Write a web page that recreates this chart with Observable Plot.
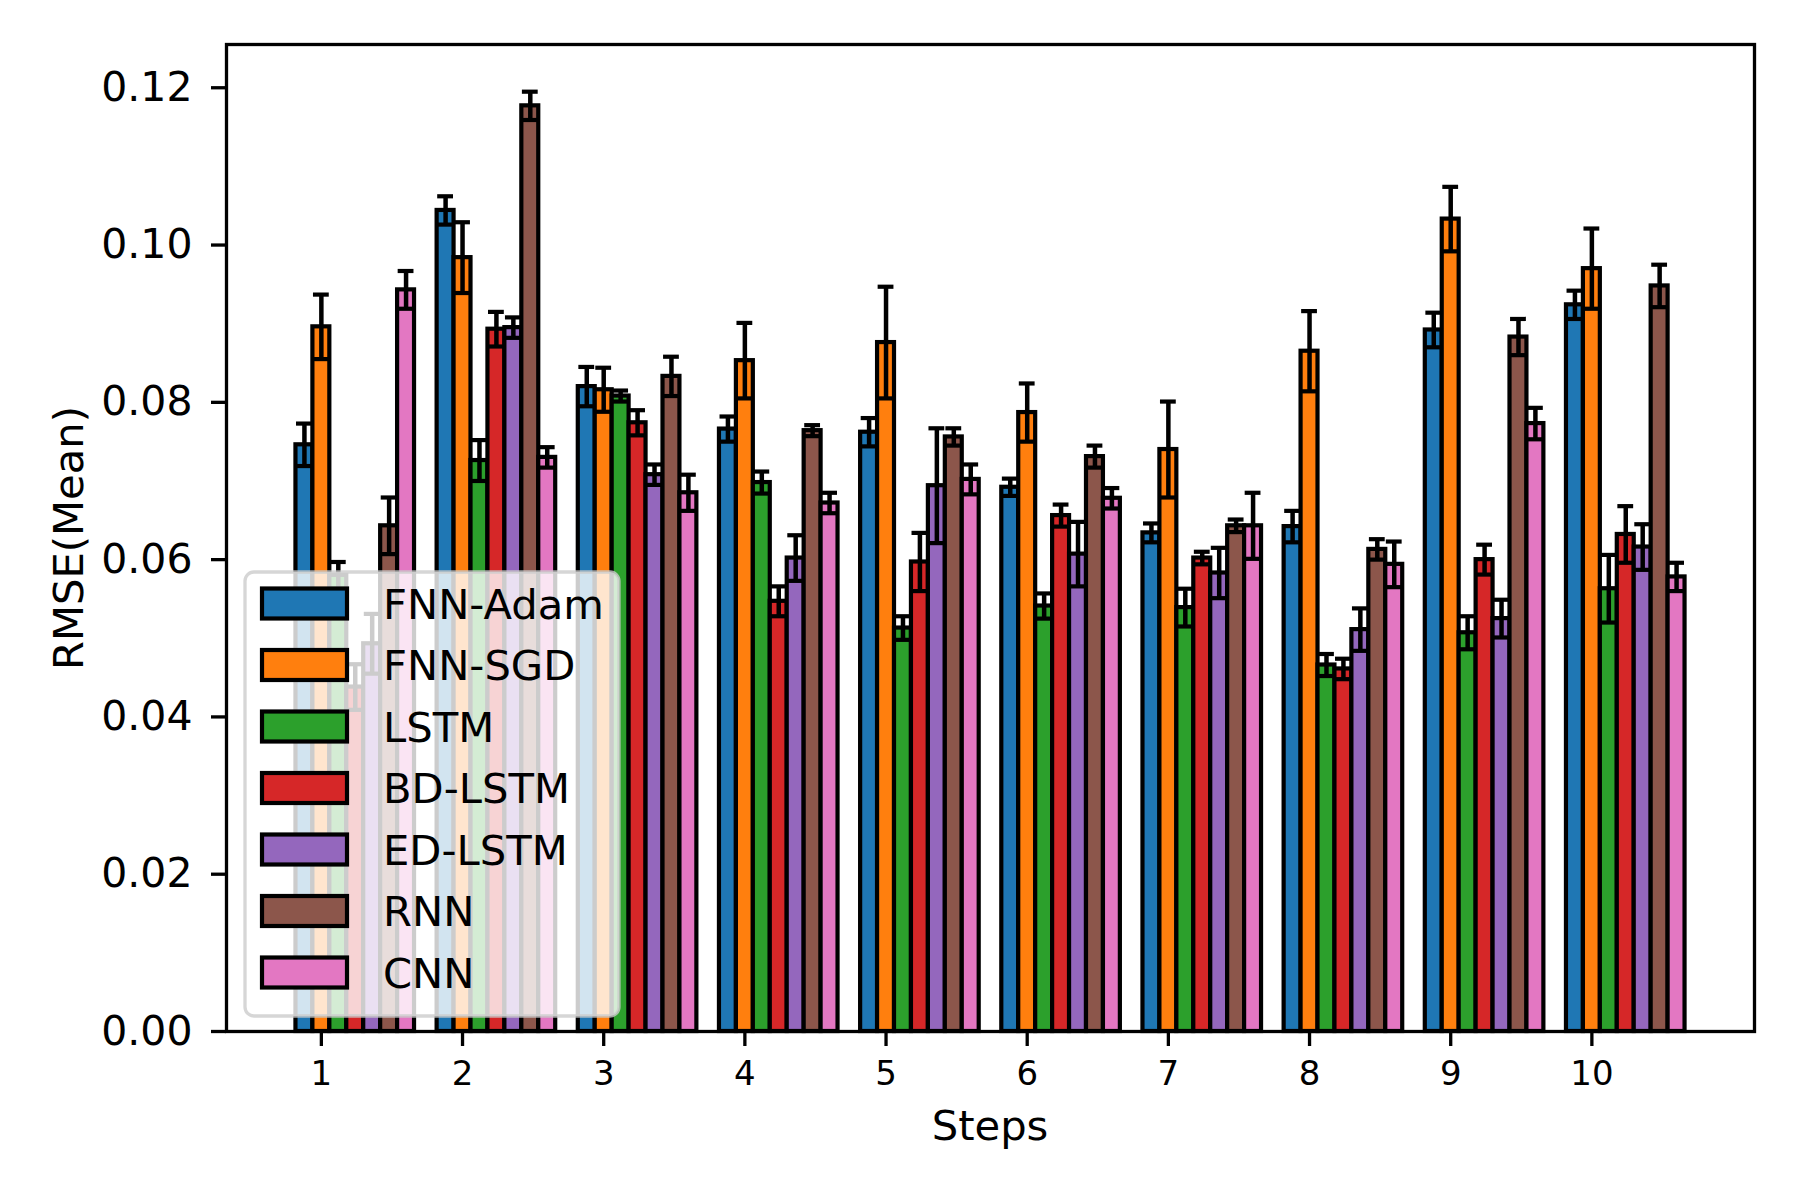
<!DOCTYPE html>
<html>
<head>
<meta charset="utf-8">
<script src="https://cdn.jsdelivr.net/npm/d3@7"></script>
<script src="https://cdn.jsdelivr.net/npm/@observablehq/plot@0.6"></script>
<style>
  html, body { margin: 0; padding: 0; background: #fff; }
  #chart { width: 1800px; height: 1200px; }
</style>
</head>
<body>
<div id="chart"></div>
<script>
// ---- data ----
const steps = [1, 2, 3, 4, 5, 6, 7, 8, 9, 10];
const models = ["FNN-Adam", "FNN-SGD", "LSTM", "BD-LSTM", "ED-LSTM", "RNN", "CNN"];
const colors = ["#1f77b4", "#ff7f0e", "#2ca02c", "#d62728", "#9467bd", "#8c564b", "#e377c2"];
const yTicks = [0, 0.02, 0.04, 0.06, 0.08, 0.10, 0.12];

const fnnAdamMean = [0.0746, 0.1044, 0.0820, 0.0766, 0.0762, 0.0692, 0.0634, 0.0642, 0.0892, 0.0924];
const fnnAdamErr  = [0.0027, 0.0018, 0.0025, 0.0016, 0.0018, 0.0011, 0.0012, 0.0020, 0.0022, 0.0018];
const fnnSgdMean  = [0.0896, 0.0984, 0.0816, 0.0853, 0.0876, 0.0787, 0.0740, 0.0865, 0.1033, 0.0970];
const fnnSgdErr   = [0.0041, 0.0045, 0.0028, 0.0048, 0.0071, 0.0037, 0.0061, 0.0051, 0.0041, 0.0051];
const lstmMean    = [0.0580, 0.0726, 0.0808, 0.0698, 0.0513, 0.0541, 0.0539, 0.0466, 0.0507, 0.0563];
const lstmErr     = [0.0017, 0.0026, 0.0007, 0.0014, 0.0015, 0.0016, 0.0024, 0.0014, 0.0021, 0.0043];
const bdLstmMean  = [0.0438, 0.0893, 0.0774, 0.0547, 0.0597, 0.0656, 0.0602, 0.0461, 0.0600, 0.0632];
const bdLstmErr   = [0.0029, 0.0022, 0.0016, 0.0019, 0.0037, 0.0014, 0.0008, 0.0013, 0.0019, 0.0036];
const edLstmMean  = [0.0493, 0.0895, 0.0708, 0.0602, 0.0694, 0.0607, 0.0583, 0.0511, 0.0525, 0.0616];
const edLstmErr   = [0.0038, 0.0013, 0.0013, 0.0029, 0.0073, 0.0041, 0.0032, 0.0027, 0.0024, 0.0029];
const rnnMean     = [0.0643, 0.1177, 0.0833, 0.0764, 0.0756, 0.0731, 0.0643, 0.0613, 0.0883, 0.0948];
const rnnErr      = [0.0036, 0.0018, 0.0025, 0.0007, 0.0011, 0.0014, 0.0008, 0.0013, 0.0023, 0.0027];
const cnnMean     = [0.0943, 0.0730, 0.0685, 0.0672, 0.0702, 0.0678, 0.0643, 0.0594, 0.0773, 0.0578];
const cnnErr      = [0.0024, 0.0013, 0.0023, 0.0013, 0.0019, 0.0013, 0.0042, 0.0029, 0.0020, 0.0018];

const means = [fnnAdamMean, fnnSgdMean, lstmMean, bdLstmMean, edLstmMean, rnnMean, cnnMean];
const errs  = [fnnAdamErr, fnnSgdErr, lstmErr, bdLstmErr, edLstmErr, rnnErr, cnnErr];

// ---- table ----
const data = [];
models.forEach((m, i) => steps.forEach((s, j) => {
  data.push({model: m, i, step: s, value: means[i][j], err: errs[i][j]});
}));

const W = 0.12;          // bar width in step units
const CAP = 0.056;       // half cap width in step units
const cx = d => d.step + (d.i - 1) * W;

const FONT = "DejaVu Sans, Liberation Sans, sans-serif";

const chart = Plot.plot({
  width: 1800,
  height: 1200,
  marginLeft: 226,
  marginRight: 46,
  marginTop: 44,
  marginBottom: 169,
  style: {fontFamily: FONT, fontSize: "41px", background: "white", color: "black", overflow: "visible"},
  x: {domain: [0.328, 11.152]},
  y: {domain: [0, 0.1255]},
  color: {domain: models, range: colors},
  marks: [
    Plot.rectY(data, {
      x1: d => cx(d) - W / 2, x2: d => cx(d) + W / 2, y: "value",
      fill: "model", stroke: "black", strokeWidth: 4.2, inset: 0
    }),
    Plot.ruleX(data, {
      x: cx, y1: d => d.value - d.err, y2: d => d.value + d.err,
      stroke: "black", strokeWidth: 4.5
    }),
    Plot.ruleY(data, {
      y: d => d.value + d.err, x1: d => cx(d) - CAP, x2: d => cx(d) + CAP,
      stroke: "black", strokeWidth: 4.2
    }),
    Plot.ruleY(data, {
      y: d => d.value - d.err, x1: d => cx(d) - CAP, x2: d => cx(d) + CAP,
      stroke: "black", strokeWidth: 4.2
    }),
    Plot.axisY({ticks: yTicks, tickFormat: d3.format(".2f"), tickSize: 15, tickPadding: 19,
      strokeWidth: 3.3, label: null, fontSize: 41}),
    Plot.axisX({ticks: steps, tickFormat: d => String(d), tickSize: 15, tickPadding: 14,
      strokeWidth: 3.3, label: null, fontSize: 34}),
    Plot.frame({stroke: "black", strokeWidth: 3.3})
  ]
});

document.getElementById("chart").appendChild(chart);

// ---- axis titles and legend (decorations) ----
const svg = d3.select(chart);

svg.append("text")
  .attr("x", 990).attr("y", 1140)
  .attr("text-anchor", "middle")
  .attr("font-family", FONT).attr("font-size", 41.7)
  .attr("fill", "black")
  .text("Steps");

svg.append("text")
  .attr("transform", "translate(83,538) rotate(-90)")
  .attr("text-anchor", "middle")
  .attr("font-family", FONT).attr("font-size", 41.7)
  .attr("fill", "black")
  .text("RMSE(Mean)");

const lg = svg.append("g").attr("text-anchor", "start");
lg.append("rect")
  .attr("x", 245).attr("y", 572).attr("width", 374).attr("height", 444)
  .attr("rx", 9).attr("ry", 9)
  .attr("fill", "white").attr("fill-opacity", 0.8)
  .attr("stroke", "#cccccc").attr("stroke-opacity", 0.8).attr("stroke-width", 3.3);

models.forEach((m, k) => {
  const cy = 603.5 + 61.5 * k;
  lg.append("rect")
    .attr("x", 262).attr("y", cy - 15).attr("width", 85).attr("height", 30)
    .attr("fill", colors[k]).attr("stroke", "black").attr("stroke-width", 4.2);
  lg.append("text")
    .attr("x", 383).attr("y", cy + 15)
    .attr("text-anchor", "start")
    .attr("font-family", FONT).attr("font-size", 41.7)
    .attr("fill", "black")
    .text(m);
});
</script>
</body>
</html>
